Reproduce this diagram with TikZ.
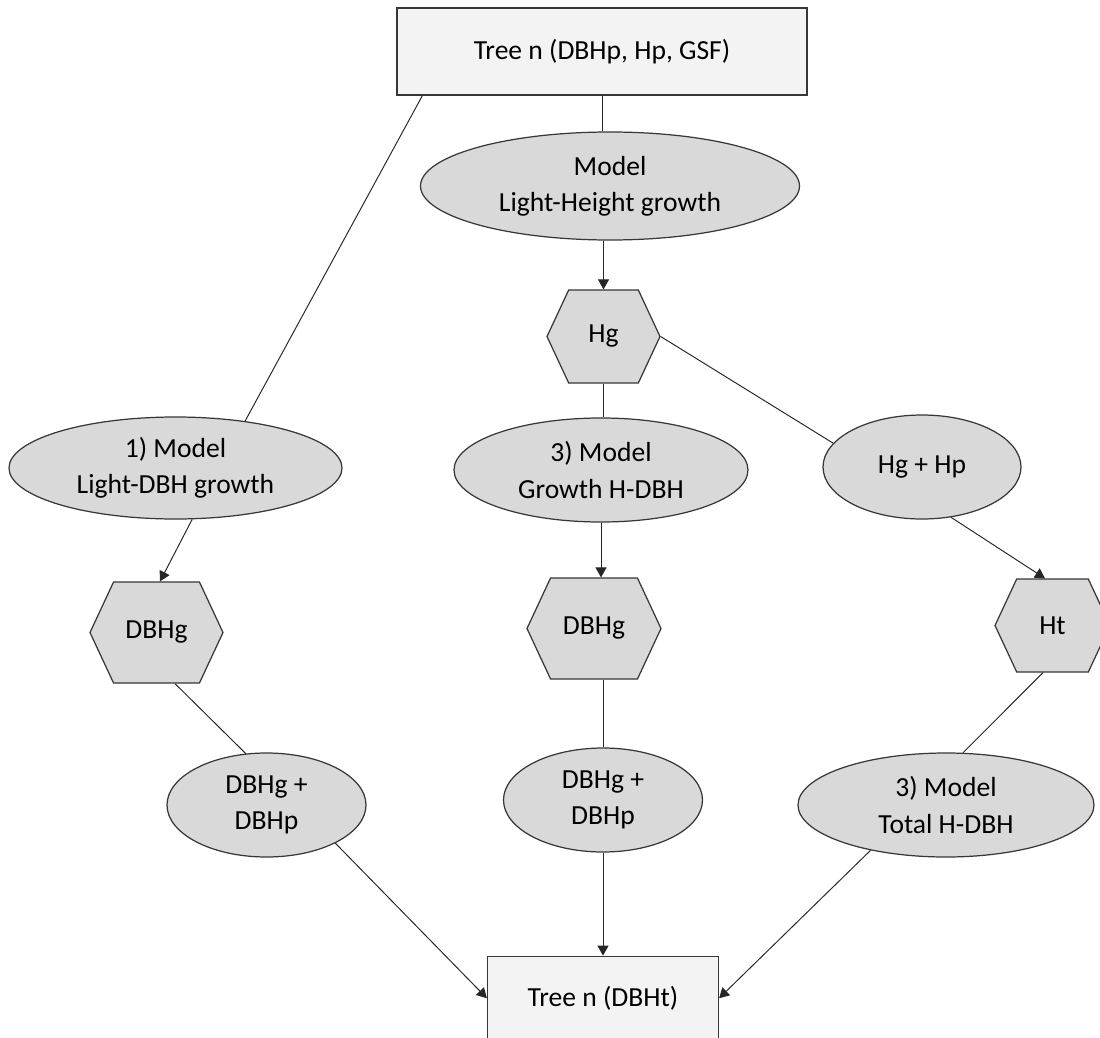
\documentclass[tikz,border=0pt]{standalone}
\usepackage{fontspec}
\setmainfont{Carlito}
\usepackage{tikz}
\usetikzlibrary{shapes.geometric, shapes.symbols, arrows.meta, positioning}
\usepackage{xcolor}
\definecolor{treefill}{RGB}{243,243,243}
\definecolor{modelfill}{RGB}{217,217,217}
\definecolor{edgegray}{RGB}{55,55,55}

\begin{document}
\begin{tikzpicture}[
    treebox/.style={rectangle, draw=edgegray, line width=0.7pt, fill=treefill,
                    align=center, font=\fontsize{15.7}{20.5}\selectfont},
    model/.style={ellipse, draw=edgegray, line width=0.7pt, fill=modelfill,
                  inner sep=1pt, align=center, font=\fontsize{15.7}{20.5}\selectfont},
    hexa/.style={signal, signal to=west and east, signal pointer angle=130,
                 draw=edgegray, line width=0.7pt, fill=modelfill, inner sep=1pt,
                 font=\fontsize{15.7}{20.5}\selectfont},
    link/.style={line width=0.55pt, black!85},
    arr/.style={-{Triangle[length=2mm, width=2.2mm]}, line width=0.55pt, black!85},
]
\useasboundingbox (0,0) rectangle (22,-20.76);

% Input tree
\node[treebox, minimum width=8.2cm, minimum height=1.74cm] at (12.04,-1.03) (top)
      {Tree n (DBHp, Hp, GSF)};

% Middle column: height growth
\node[model, minimum width=7.58cm, minimum height=2.16cm] at (12.2,-3.72) (mlh)
      {Model\\Light-Height growth};
\node[hexa, minimum width=2.26cm, minimum height=1.86cm] at (12.07,-6.73) (hg) {Hg};
\node[model, minimum width=5.88cm, minimum height=2.08cm] at (12.02,-9.4) (grw)
      {3) Model\\Growth H-DBH};
\node[hexa, minimum width=2.68cm, minimum height=2.02cm] at (11.88,-12.57) (dbhgM) {DBHg};
\node[model, minimum width=3.98cm, minimum height=2.08cm] at (12.06,-16.0) (sumM)
      {DBHg +\\DBHp};

% Left column: DBH growth
\node[model, minimum width=6.66cm, minimum height=2.04cm] at (3.51,-9.36) (e1)
      {1) Model\\Light-DBH growth};
\node[hexa, minimum width=2.66cm, minimum height=2.02cm] at (3.13,-12.65) (dbhgL) {DBHg};
\node[model, minimum width=3.98cm, minimum height=2.08cm] at (5.33,-16.1) (sumL)
      {DBHg +\\DBHp};

% Right column: total height
\node[model, minimum width=3.96cm, minimum height=2.08cm] at (18.44,-9.34) (hghp) {Hg + Hp};
\node[hexa, minimum width=2.3cm, minimum height=1.86cm] at (21.05,-12.51) (ht) {Ht};
\node[model, minimum width=5.92cm, minimum height=2.08cm] at (18.92,-16.1) (tot)
      {3) Model\\Total H-DBH};

% Output tree
\node[treebox, minimum width=4.62cm, minimum height=1.68cm, below=2.06cm of sumM.south,
      anchor=north] (bot) {Tree n (DBHt)};

% Connectors
\draw[link] ([xshift=0.52cm]top.south west) -- (e1.34);
\draw[link] (top.south) -- (top.south |- mlh.north);
\draw[arr] (hg.north |- mlh.south) -- (hg.north);
\draw[link] (hg.south) -- (hg.south |- grw.north);
\draw[link] (hg.east) -- (hghp.165);
\draw[arr] (e1.-72) -- ([xshift=0.07cm]dbhgL.north);
\draw[link] ([xshift=0.37cm]dbhgL.south) -- (sumL.112);
\draw[arr] (sumL.-29) -- (bot.west);
\draw[arr] (grw.south) -- (grw.south |- dbhgM.north);
\draw[link] (dbhgM.south -| sumM.north) -- (sumM.north);
\draw[arr] (sumM.south) -- (bot.north);
\draw[arr] (hghp.-60) -- ([xshift=-0.15cm]ht.north);
\draw[link] ([xshift=-0.19cm]ht.south) -- (tot.72);
\draw[arr] (tot.211) -- (bot.east);

\end{tikzpicture}
\end{document}
